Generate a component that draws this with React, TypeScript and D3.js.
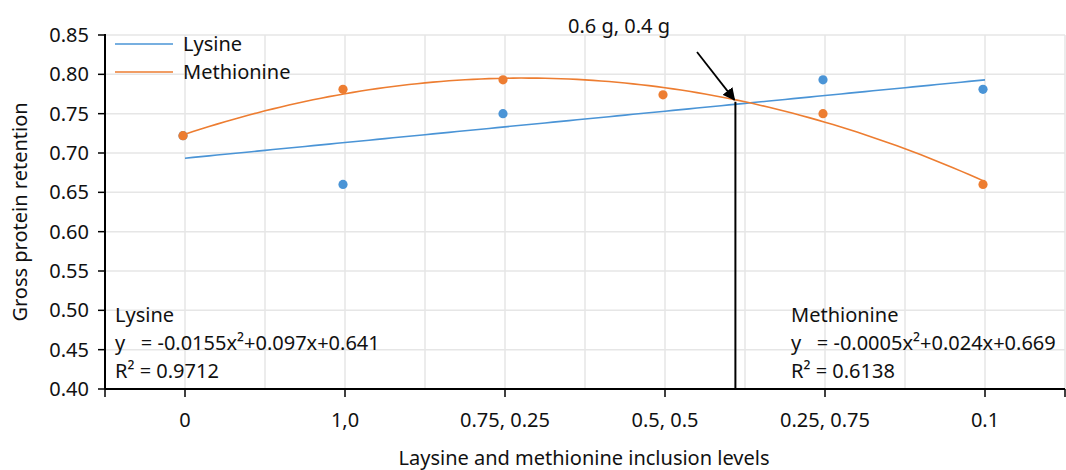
import React from 'react';
import * as d3 from 'd3';

// chart data
const categories = ['0', '1,0', '0.75, 0.25', '0.5, 0.5', '0.25, 0.75', '0.1'];
const lysine: (number | null)[] = [0.722, 0.66, 0.75, null, 0.793, 0.781];
const methionine: (number | null)[] = [0.722, 0.781, 0.793, 0.774, 0.75, 0.66];
const yTicks = [0.4, 0.45, 0.5, 0.55, 0.6, 0.65, 0.7, 0.75, 0.8, 0.85];
const lysineNote = ['Lysine', 'y   = -0.0155x²+0.097x+0.641', 'R² = 0.9712'];
const methionineNote = ['Methionine', 'y   = -0.0005x²+0.024x+0.669', 'R² = 0.6138'];
const cutoff = { x: 3.44, y: 0.765, label: '0.6 g, 0.4 g' };

const BLUE = '#4a94d6';
const ORANGE = '#ed7d31';
const GRID = '#e6e6e6';
const FONT = '"Noto Sans", sans-serif';
const FS = 20;

// least squares polynomial fit, returns coefficients c0 + c1 x + c2 x^2 ...
function polyFit(pts: [number, number][], deg: number) {
  const n = deg + 1;
  const A = Array.from({ length: n }, () => new Array(n + 1).fill(0));
  pts.forEach(([x, y]) => {
    for (let i = 0; i < n; i++) {
      for (let j = 0; j < n; j++) A[i][j] += Math.pow(x, i + j);
      A[i][n] += y * Math.pow(x, i);
    }
  });
  for (let i = 0; i < n; i++) {
    let p = i;
    for (let k = i + 1; k < n; k++) if (Math.abs(A[k][i]) > Math.abs(A[p][i])) p = k;
    [A[i], A[p]] = [A[p], A[i]];
    for (let k = 0; k < n; k++) {
      if (k === i) continue;
      const f = A[k][i] / A[i][i];
      for (let j = i; j <= n; j++) A[k][j] -= f * A[i][j];
    }
  }
  return A.map((row, i) => row[n] / row[i]);
}

const toPts = (vals: (number | null)[]) =>
  vals.map((v, i) => [i, v] as [number, number | null]).filter((d) => d[1] !== null) as [number, number][];

const App = () => {
  const width = 1066;
  const height = 470;
  const left = 105;
  const right = 1065;
  const top = 35;
  const bottom = 389;

  const x = d3.scaleLinear().domain([-0.5, categories.length - 0.5]).range([left, right]);
  const y = d3.scaleLinear().domain([0.4, 0.85]).range([bottom, top]);

  const lysPts = toPts(lysine);
  const metPts = toPts(methionine);
  const lysFit = polyFit(lysPts, 1);
  const metFit = polyFit(metPts, 2);
  const evalFit = (c: number[], v: number) => c.reduce((s, k, i) => s + k * Math.pow(v, i), 0);

  const samples = d3.range(0, categories.length - 1 + 0.001, 0.05);
  const line = d3.line<number>().x((d) => x(d));

  const lysPath = line.y((d) => y(evalFit(lysFit, d)))(samples) || '';
  const metPath = line.y((d) => y(evalFit(metFit, d)))(samples) || '';

  const vGrid = d3.range(0, categories.length * 2).map((i) => x(i * 0.5));
  const cx = x(cutoff.x);
  const cy = y(cutoff.y);

  return (
    <svg
      width={width}
      height={height}
      style={{ position: 'absolute', left: 0, top: 0, background: '#fff' }}
      fontFamily={FONT}
    >
      <defs>
        <marker id="arrow" viewBox="0 0 10 10" refX="9" refY="5" markerWidth="7" markerHeight="7" orient="auto">
          <path d="M0,0 L10,5 L0,10 z" fill="#000" />
        </marker>
      </defs>

      {/* grid */}
      {yTicks.slice(1).map((t) => (
        <line key={'h' + t} x1={left} x2={right} y1={y(t)} y2={y(t)} stroke={GRID} strokeWidth={1.5} />
      ))}
      {vGrid.map((gx, i) => (
        <line key={'v' + i} x1={gx} x2={gx} y1={top} y2={bottom} stroke={GRID} strokeWidth={1.5} />
      ))}

      {/* y axis */}
      <line x1={left} x2={left} y1={top - 1} y2={bottom} stroke="#000" strokeWidth={2} />
      {yTicks.map((t) => (
        <g key={'yt' + t}>
          <line x1={left - 7} x2={left} y1={y(t)} y2={y(t)} stroke="#000" strokeWidth={1.5} />
          <text x={left - 16} y={y(t)} dy="0.35em" textAnchor="end" fontSize={FS} fill="#111">
            {t.toFixed(2)}
          </text>
        </g>
      ))}

      {/* x axis */}
      <line x1={left} x2={right} y1={bottom} y2={bottom} stroke="#000" strokeWidth={2} />
      {[-0.5, ...categories.map((_, i) => i), categories.length - 0.5].map((v) => (
        <line key={'xt' + v} x1={x(v)} x2={x(v)} y1={bottom} y2={bottom + 8} stroke="#000" strokeWidth={1.5} />
      ))}
      {categories.map((c, i) => (
        <text key={'xl' + c} x={x(i)} y={427} textAnchor="middle" fontSize={FS} fill="#111">
          {c}
        </text>
      ))}

      {/* axis titles */}
      <text x={584} y={465} textAnchor="middle" fontSize={FS} fill="#111">
        Laysine and methionine inclusion levels
      </text>
      <text
        transform={`translate(27,${(top + bottom) / 2}) rotate(-90)`}
        textAnchor="middle"
        fontSize={FS}
        fill="#111"
      >
        Gross protein retention
      </text>

      {/* trend lines */}
      <path d={lysPath} fill="none" stroke={BLUE} strokeWidth={1.6} />
      <path d={metPath} fill="none" stroke={ORANGE} strokeWidth={1.6} />

      {/* points */}
      {lysPts.map(([i, v]) => (
        <circle key={'lp' + i} cx={x(i) - 2} cy={y(v)} r={4.6} fill={BLUE} />
      ))}
      {metPts.map(([i, v]) => (
        <circle key={'mp' + i} cx={x(i) - 2} cy={y(v)} r={4.6} fill={ORANGE} />
      ))}

      {/* cutoff marker */}
      <line x1={cx} x2={cx} y1={cy} y2={bottom} stroke="#000" strokeWidth={2} />
      <line x1={697} y1={52} x2={cx - 1} y2={cy - 2} stroke="#000" strokeWidth={1.8} markerEnd="url(#arrow)" />
      <text x={568} y={33} fontSize={FS} fill="#111">
        {cutoff.label}
      </text>

      {/* legend */}
      {[
        ['Lysine', BLUE],
        ['Methionine', ORANGE],
      ].map(([name, col], i) => (
        <g key={name} transform={`translate(115,${44 + i * 28})`}>
          <line x1={0} x2={58} y1={0} y2={0} stroke={col} strokeWidth={1.6} />
          <text x={68} y={0} dy="0.35em" fontSize={FS} fill="#111">
            {name}
          </text>
        </g>
      ))}

      {/* equations */}
      {lysineNote.map((s, i) => (
        <text key={'ln' + i} x={115} y={322 + i * 28} fontSize={FS} fill="#111" style={{ whiteSpace: 'pre' }}>
          {s}
        </text>
      ))}
      {methionineNote.map((s, i) => (
        <text key={'mn' + i} x={791} y={322 + i * 28} fontSize={FS} fill="#111" style={{ whiteSpace: 'pre' }}>
          {s}
        </text>
      ))}
    </svg>
  );
};

export default App;
